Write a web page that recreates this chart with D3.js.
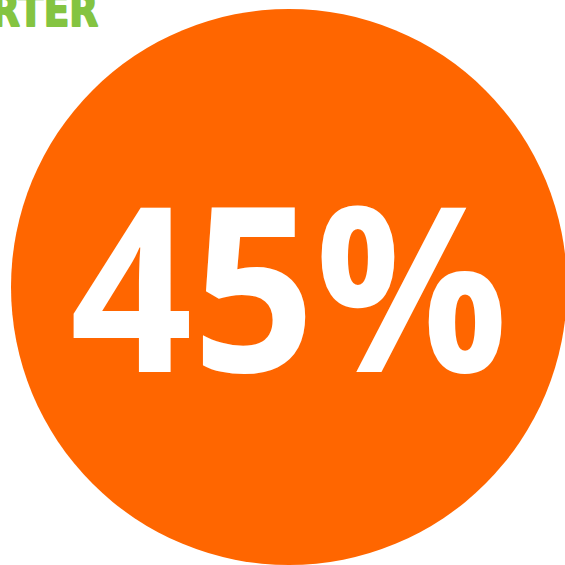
<!DOCTYPE html>
<html>
<head>
<meta charset="utf-8">
<script src="https://cdn.jsdelivr.net/npm/d3@7"></script>
<style>
  html, body { margin: 0; padding: 0; background: #fff; overflow: hidden; }
</style>
</head>
<body>
<div class="chart"></div>
<script>
// the single value shown in the badge
var values = [45];
var labels = ["45%"];
var headerText = ["RTER"];

var svg = d3.select(".chart").append("svg")
  .attr("width", 565).attr("height", 565);

// value -> share of the circle radius (full badge)
var r = d3.scaleSqrt().domain([0, 45]).range([0, 278]);

var badge = svg.selectAll("g.badge")
  .data(values)
  .enter().append("g")
  .attr("class", "badge")
  .attr("transform", "translate(289,287)");

badge.append("circle")
  .attr("r", function(d) { return r(d); })
  .attr("fill", "#ff6600");

badge.append("text")
  .text(function(d, i) { return labels[i]; })
  .attr("x", 0)
  .attr("y", 85)
  .attr("text-anchor", "middle")
  .attr("font-family", "'Open Sans', sans-serif")
  .attr("font-weight", 700)
  .attr("font-size", 230)
  .attr("textLength", 438)
  .attr("lengthAdjust", "spacingAndGlyphs")
  .attr("fill", "#fff");

// cut-off green header in the corner
svg.selectAll("text.header")
  .data(headerText)
  .enter().append("text")
  .attr("class", "header")
  .text(function(d) { return d; })
  .attr("x", -9)
  .attr("y", 26)
  .attr("font-family", "'DejaVu Sans', sans-serif")
  .attr("font-weight", 700)
  .attr("font-size", 44)
  .attr("textLength", 107)
  .attr("lengthAdjust", "spacingAndGlyphs")
  .attr("fill", "#84c441")
  .attr("stroke", "#84c441")
  .attr("stroke-width", 2)
  .attr("stroke-linejoin", "round");
</script>
</body>
</html>
